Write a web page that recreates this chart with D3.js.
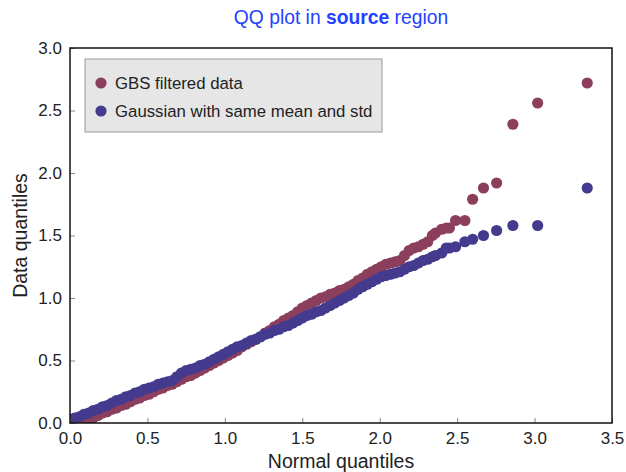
<!DOCTYPE html>
<html>
<head>
<meta charset="utf-8">
<script src="https://cdn.jsdelivr.net/npm/d3@7"></script>
<style>
  html, body { margin: 0; padding: 0; background: #fff; }
  svg { display: block; font-family: "Liberation Sans", Arial, sans-serif; }
</style>
</head>
<body>
<svg id="chart" width="626" height="472"></svg>
<script>
// ---- data ----
const normalQuantiles = [
  0.00,0.03,0.06,0.09,0.12,0.15,0.18,0.21,0.24,0.27,0.30,0.33,0.36,0.39,0.42,0.45,0.48,0.51,0.54,0.57,
  0.60,0.63,0.66,0.69,0.72,0.75,0.78,0.81,0.84,0.87,0.90,0.93,0.96,0.99,1.02,1.05,1.08,1.11,1.14,1.17,
  1.20,1.23,1.26,1.29,1.32,1.35,1.38,1.41,1.44,1.47,1.50,1.53,1.56,1.59,1.62,1.65,1.68,1.71,1.74,1.77,
  1.80,1.83,1.86,1.89,1.92,1.95,1.98,2.01,2.04,2.07,2.10,2.13,2.16,2.19,2.22,2.25,2.28,2.31,
  2.34,2.36,2.40,2.43,2.45,2.49,2.55,2.60,2.67,2.755,2.86,3.02,3.34
];
const gbsFiltered = [
  0.00,0.00,0.00,0.01,0.03,0.04,0.06,0.08,0.09,0.11,0.12,0.14,0.15,0.17,0.19,0.20,0.22,0.23,0.25,0.27,
  0.28,0.30,0.31,0.33,0.35,0.37,0.38,0.40,0.42,0.44,0.46,0.48,0.50,0.52,0.54,0.56,0.58,0.61,0.63,0.65,
  0.67,0.69,0.72,0.74,0.77,0.79,0.82,0.84,0.86,0.89,0.92,0.94,0.96,0.98,1.00,1.01,1.03,1.04,1.06,1.07,
  1.09,1.11,1.14,1.16,1.19,1.21,1.23,1.25,1.27,1.28,1.29,1.30,1.34,1.38,1.40,1.41,1.43,1.45,
  1.50,1.52,1.55,1.56,1.56,1.62,1.62,1.79,1.88,1.92,2.39,2.56,2.72
];
const gaussianSame = [
  0.03,0.04,0.05,0.07,0.08,0.10,0.11,0.13,0.14,0.16,0.18,0.19,0.21,0.22,0.24,0.25,0.27,0.28,0.29,0.31,
  0.32,0.33,0.34,0.37,0.40,0.42,0.43,0.44,0.46,0.47,0.49,0.51,0.53,0.55,0.57,0.59,0.61,0.62,0.64,0.66,
  0.67,0.69,0.71,0.72,0.74,0.75,0.77,0.78,0.80,0.82,0.84,0.86,0.87,0.89,0.90,0.92,0.94,0.96,0.98,1.00,
  1.02,1.04,1.07,1.09,1.11,1.13,1.15,1.17,1.18,1.19,1.20,1.21,1.23,1.25,1.26,1.28,1.30,1.31,
  1.33,1.34,1.36,1.40,1.40,1.41,1.45,1.47,1.50,1.54,1.58,1.58,1.88
];
const xTicks = [0.0,0.5,1.0,1.5,2.0,2.5,3.0,3.5];
const yTicks = [0.0,0.5,1.0,1.5,2.0,2.5,3.0];
const seriesNames = ["GBS filtered data", "Gaussian with same mean and std"];
const seriesColors = ["#8c3f5c", "#443a8e"];

// ---- layout ----
const svg = d3.select("#chart");
const pL = 70, pR = 612, pT = 48, pB = 423;
const x = d3.scaleLinear().domain([0, 3.5]).range([pL, pR]);
const y = d3.scaleLinear().domain([0, 3.0]).range([pB, pT]);

svg.append("defs").append("clipPath").attr("id", "plotclip")
  .append("rect").attr("x", pL).attr("y", pT).attr("width", pR-pL).attr("height", pB-pT);

// title
const title = svg.append("text").attr("x", (pL+pR)/2).attr("y", 24)
  .attr("text-anchor", "middle").attr("font-size", 19.3).attr("fill", "#2342ff");
title.append("tspan").text("QQ plot in ");
title.append("tspan").attr("font-weight", "bold").text("source");
title.append("tspan").text(" region");

// points
const pts = svg.append("g").attr("clip-path", "url(#plotclip)");
const series = [gbsFiltered, gaussianSame];
series.forEach((vals, i) => {
  pts.append("g").selectAll("circle")
    .data(normalQuantiles.map((q, j) => [q, vals[j]]))
    .join("circle")
    .attr("cx", d => x(d[0]))
    .attr("cy", d => y(d[1]))
    .attr("r", 5.6)
    .attr("fill", seriesColors[i]);
});

// axes
const xAxis = d3.axisBottom(x).tickValues(xTicks).tickFormat(d3.format(".1f")).tickSizeInner(-5).tickSizeOuter(0).tickPadding(9);
const yAxis = d3.axisLeft(y).tickValues(yTicks).tickFormat(d3.format(".1f")).tickSizeInner(-5).tickSizeOuter(0).tickPadding(8);
const gx = svg.append("g").attr("transform", `translate(0,${pB})`).call(xAxis);
const gy = svg.append("g").attr("transform", `translate(${pL},0)`).call(yAxis);
[gx, gy].forEach(g => {
  g.select(".domain").remove();
  g.selectAll(".tick line").attr("stroke", "#888");
  g.selectAll(".tick text").attr("font-size", 17).attr("fill", "#222")
    .attr("font-family", "'Liberation Sans', Arial, sans-serif");
});

// frame
svg.append("rect").attr("x", pL).attr("y", pT).attr("width", pR-pL).attr("height", pB-pT)
  .attr("fill", "none").attr("stroke", "#111").attr("stroke-width", 1.5);

// axis labels
svg.append("text").attr("x", (pL+pR)/2).attr("y", 468).attr("text-anchor", "middle")
  .attr("font-size", 19.5).attr("fill", "#222").text("Normal quantiles");
svg.append("text").attr("transform", `translate(27,${(pT+pB)/2}) rotate(-90)`).attr("text-anchor", "middle")
  .attr("font-size", 19.5).attr("fill", "#222").text("Data quantiles");

// legend
const lg = svg.append("g");
lg.append("rect").attr("x", 85).attr("y", 59).attr("width", 297).attr("height", 73)
  .attr("fill", "#e6e6e6").attr("stroke", "#999").attr("stroke-width", 1);
seriesNames.forEach((name, i) => {
  const cy = 83 + i * 28;
  lg.append("circle").attr("cx", 101).attr("cy", cy).attr("r", 5.6).attr("fill", seriesColors[i]);
  lg.append("text").attr("x", 115).attr("y", cy + 6).attr("font-size", 16.8).attr("fill", "#222").text(name);
});
</script>
</body>
</html>
